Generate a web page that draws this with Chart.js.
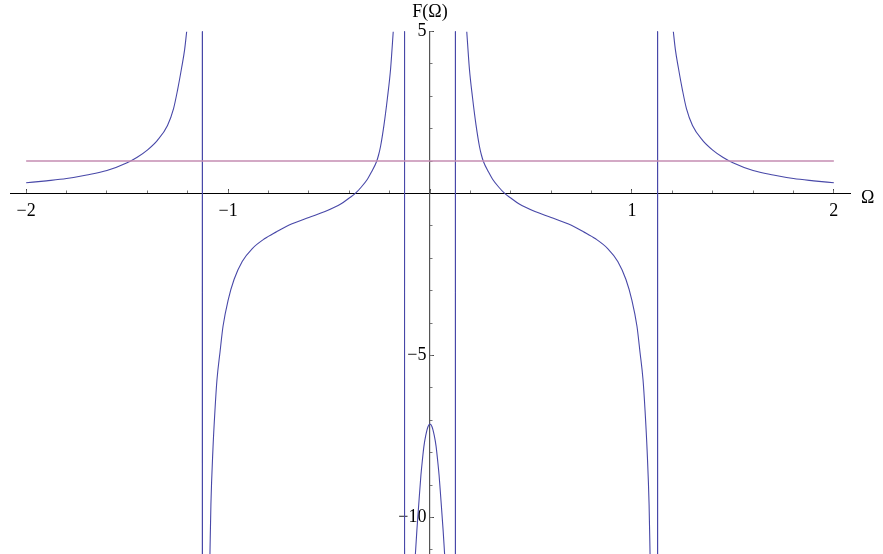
<!DOCTYPE html>
<html>
<head>
<meta charset="utf-8">
<script src="https://cdn.jsdelivr.net/npm/chart.js@4/dist/chart.umd.min.js"></script>
<style>
  html, body { margin: 0; padding: 0; background: #fff; }
</style>
</head>
<body>
<canvas id="chart" width="883" height="554"></canvas>
<script>
// values: F(Ω) against Ω
const outerLeftOmega  = [-2.0, -1.9, -1.8, -1.7, -1.6, -1.5, -1.45, -1.4, -1.35, -1.3, -1.27, -1.25, -1.23, -1.215, -1.205];
const outerLeftF      = [0.33, 0.39, 0.46, 0.57, 0.71, 0.95, 1.12, 1.34, 1.64, 2.1, 2.62, 3.2, 3.88, 4.45, 5.0];
const innerLeftOmega  = [-1.09, -1.085, -1.075, -1.065, -1.055, -1.04, -1.025, -1.0, -0.97, -0.93, -0.88, -0.82, -0.76, -0.7, -0.6, -0.52, -0.44, -0.4, -0.37, -0.34, -0.31, -0.29, -0.265, -0.255, -0.245, -0.228, -0.211, -0.195, -0.182];
const innerLeftF      = [-11.2, -9.6, -7.9, -6.7, -5.75, -4.9, -4.1, -3.3, -2.65, -2.1, -1.7, -1.4, -1.18, -0.98, -0.74, -0.56, -0.32, -0.14, 0.0, 0.2, 0.44, 0.66, 0.98, 1.18, 1.45, 2.11, 2.94, 3.86, 5.0];
const centreOmega     = [-0.073, -0.065, -0.054, -0.045, -0.038, -0.03, -0.021, -0.01, 0, 0.01, 0.021, 0.03, 0.038, 0.045, 0.054, 0.065, 0.073];
const centreF         = [-11.2, -10.4, -9.45, -8.7, -8.25, -7.8, -7.47, -7.2, -7.12, -7.2, -7.47, -7.8, -8.25, -8.7, -9.45, -10.4, -11.2];
const innerRightOmega = [0.182, 0.195, 0.211, 0.228, 0.245, 0.255, 0.265, 0.29, 0.31, 0.34, 0.37, 0.4, 0.44, 0.52, 0.6, 0.7, 0.76, 0.82, 0.88, 0.93, 0.97, 1.0, 1.025, 1.04, 1.055, 1.065, 1.075, 1.085, 1.09];
const innerRightF     = [5.0, 3.86, 2.94, 2.11, 1.45, 1.18, 0.98, 0.66, 0.44, 0.2, 0.0, -0.14, -0.32, -0.56, -0.74, -0.98, -1.18, -1.4, -1.7, -2.1, -2.65, -3.3, -4.1, -4.9, -5.75, -6.7, -7.9, -9.6, -11.2];
const outerRightOmega = [1.205, 1.215, 1.23, 1.25, 1.27, 1.3, 1.35, 1.4, 1.45, 1.5, 1.6, 1.7, 1.8, 1.9, 2.0];
const outerRightF     = [5.0, 4.45, 3.88, 3.2, 2.62, 2.1, 1.64, 1.34, 1.12, 0.95, 0.71, 0.57, 0.46, 0.39, 0.33];
// the plot joins +inf and -inf across each pole with a vertical line
const poleOmega = [-1.127, -0.126, 0.126, 1.127];
const levelOmega = [-2, 2];
const levelF = [1, 1];

const xRange = [-2.08, 2.08];
const yRange = [-11.13, 5];
const xMajorStep = 1, xMinorStep = 0.2;
const yMajorStep = 5, yMinorStep = 1;
const xTitle = 'Ω', yTitle = 'F(Ω)';

const curveColor = 'rgb(72, 72, 168)';
const levelColor = 'rgb(196, 140, 178)';
const serif = '"Liberation Serif", "DejaVu Serif", serif';

function pairs(xs, ys) { return xs.map((x, i) => ({ x: x, y: ys[i] })); }

// one line, broken with gaps where the plot leaves the range
const curve = [];
[[outerLeftOmega, outerLeftF], [innerLeftOmega, innerLeftF], [centreOmega, centreF],
 [innerRightOmega, innerRightF], [outerRightOmega, outerRightF]].forEach(([xs, ys], i) => {
  if (i > 0) curve.push({ x: xs[0], y: null });
  curve.push(...pairs(xs, ys));
});
const poles = [];
poleOmega.forEach((p, i) => {
  if (i > 0) poles.push({ x: p, y: null });
  poles.push({ x: p, y: yRange[1] + 1 }, { x: p, y: yRange[0] - 1 });
});

function xLabel(v) {
  if (v === 0) return '';
  return v < 0 ? '\u2212' + Math.abs(v) : String(v);
}
// labels of an axis placed at x = 0 sit flush against it, so pad with a thin space
function yLabel(v) {
  const s = xLabel(v);
  return s ? s + '\u2009' : s;
}
// axes cross at the origin and must not take room from the plot
function noSize(s) {
  if (s.isHorizontal()) s.height = 0; else s.width = 0;
  s.paddingTop = s.paddingBottom = s.paddingLeft = s.paddingRight = 0;
}

const axisTitles = {
  id: 'axisTitles',
  afterDraw(chart) {
    const { ctx, scales: { x, y } } = chart;
    ctx.save();
    ctx.font = '18px ' + serif;
    ctx.fillStyle = '#000';
    ctx.textBaseline = 'alphabetic';
    ctx.textAlign = 'center';
    ctx.fillText(yTitle, x.getPixelForValue(0), 17);
    ctx.textAlign = 'left';
    ctx.fillText(xTitle, x.right + 11, y.getPixelForValue(0) + 10);
    ctx.restore();
  }
};

new Chart(document.getElementById('chart'), {
  type: 'scatter',
  data: {
    datasets: [
      { label: 'level', data: pairs(levelOmega, levelF), showLine: true, borderColor: levelColor, borderWidth: 1.6, pointRadius: 0 },
      { label: 'poles', data: poles, showLine: true, spanGaps: false, borderColor: curveColor, borderWidth: 1, pointRadius: 0 },
      { label: 'F', data: curve, showLine: true, spanGaps: false, borderColor: curveColor, borderWidth: 1.1, pointRadius: 0,
        cubicInterpolationMode: 'monotone' }
    ]
  },
  options: {
    responsive: false,
    animation: false,
    events: [],
    layout: { padding: { left: 10, right: 33, top: 31.5, bottom: 0 } },
    plugins: { legend: { display: false }, tooltip: { enabled: false } },
    scales: {
      x: {
        type: 'linear', position: { y: 0 }, min: xRange[0], max: xRange[1], afterFit: noSize,
        border: { color: '#000', width: 1 },
        grid: { drawOnChartArea: false, tickLength: -5, tickColor: '#444', tickWidth: 1 },
        ticks: { stepSize: xMajorStep, includeBounds: false, autoSkip: false, maxRotation: 0, padding: 12.5,
          color: '#000', font: { family: serif, size: 18 }, callback: xLabel }
      },
      x2: {
        type: 'linear', position: { y: 0 }, min: xRange[0], max: xRange[1], afterFit: noSize,
        border: { display: false },
        grid: { drawOnChartArea: false, tickLength: -2.5, tickColor: '#777', tickWidth: 1 },
        ticks: { stepSize: xMinorStep, includeBounds: false, autoSkip: false, display: false }
      },
      y: {
        type: 'linear', position: { x: 0 }, min: yRange[0], max: yRange[1], afterFit: noSize,
        border: { color: '#555', width: 1.2 },
        grid: { drawOnChartArea: false, tickLength: -5, tickColor: '#444', tickWidth: 1 },
        ticks: { stepSize: yMajorStep, includeBounds: false, autoSkip: false,
          color: '#000', font: { family: serif, size: 18 }, callback: yLabel }
      },
      y2: {
        type: 'linear', position: { x: 0 }, min: yRange[0], max: yRange[1], afterFit: noSize,
        border: { display: false },
        grid: { drawOnChartArea: false, tickLength: -2.5, tickColor: '#777', tickWidth: 1 },
        ticks: { stepSize: yMinorStep, includeBounds: false, autoSkip: false, display: false }
      }
    }
  },
  plugins: [axisTitles]
});
</script>
</body>
</html>
